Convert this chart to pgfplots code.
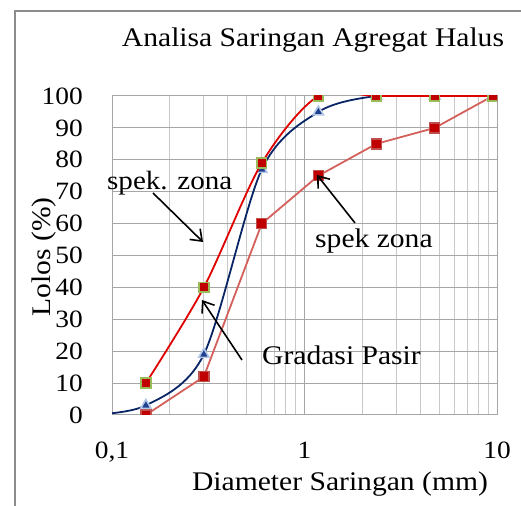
\documentclass[border=0pt]{standalone}
\usepackage{pgfplots}
\pgfplotsset{compat=1.18}
\usepackage{pgfplotstable}
\usepackage{fontspec}
\setmainfont[FakeStretch=1.1]{Liberation Serif}
\usetikzlibrary{arrows.meta}

\definecolor{bordergray}{HTML}{8C8C8C}
\definecolor{majgrid}{HTML}{A6A6A6}
\definecolor{mingrid}{HTML}{C8C8C8}
\definecolor{upline}{HTML}{E00000}
\definecolor{redfill}{HTML}{C00000}
\definecolor{greenedge}{HTML}{9BBB59}
\definecolor{lowline}{HTML}{D4605C}
\definecolor{lowedge}{HTML}{C0504D}
\definecolor{navy}{HTML}{0A2566}
\definecolor{trifill}{HTML}{1F3F8F}
\definecolor{triedge}{HTML}{B4C7E7}

% batas atas (spek. zona)
\pgfplotstableread{
d    p
0.15 10
0.3  40
0.6  79
1.18 100
2.36 100
4.75 100
9.5  100
}\tabAtas

% batas bawah (spek zona)
\pgfplotstableread{
d    p
0.15 0
0.3  12
0.6  60
1.18 75
2.36 85
4.75 90
9.5  100
}\tabBawah

% gradasi pasir
\pgfplotstableread{
d     p
0.075 0
0.15  3
0.3   19
0.6   77
1.18  95
2.36  100
4.75  100
9.5   100
}\tabPasir

\begin{document}
\begin{tikzpicture}[x=1bp,y=1bp]
\useasboundingbox (0,0) rectangle (521,506);
\draw[bordergray, line width=2bp] (15,0) -- (15,495) -- (522,495);

\begin{axis}[
    at={(112bp,91bp)}, anchor=south west,
    scale only axis,
    width=385bp, height=319bp,
    xmode=log,
    xmin=0.1, xmax=10,
    ymin=0, ymax=100,
    xtick={0.1,1,10},
    xticklabels={{0,1},1,10},
    minor xtick={0.2,0.3,0.4,0.5,0.6,0.7,0.8,0.9,2,3,4,5,6,7,8,9},
    ytick={0,10,...,100},
    major tick length=0pt, minor tick length=0pt,
    xmajorgrids, xminorgrids, ymajorgrids,
    major grid style={majgrid, line width=1bp},
    minor grid style={mingrid, line width=1bp},
    axis line style={majgrid, line width=1bp},
    /pgf/number format/assume math mode=true,
    ticklabel style={font=\fontsize{25}{28}\selectfont, inner sep=0pt},
    yticklabel style={anchor=east, xshift=-29bp},
    xticklabel style={anchor=north, yshift=-27bp},
    clip marker paths=true,
]
\addplot[lowline, line width=1.8bp, mark=square*, mark size=5bp,
    mark options={fill=redfill, draw=lowedge, line width=1.4bp}]
    table[x=d, y=p] {\tabBawah};
\addplot[navy, line width=1.8bp, smooth, mark=triangle*, mark size=6bp,
    mark options={fill=trifill, draw=triedge, line width=1.6bp}]
    table[x=d, y=p] {\tabPasir};
\addplot[upline, line width=1.8bp, smooth, mark=square*, mark size=4.8bp,
    mark options={fill=redfill, draw=greenedge, line width=1.8bp}]
    table[x=d, y=p] {\tabAtas};
\end{axis}

\node[anchor=base, font=\fontsize{27}{30}\selectfont, inner sep=0pt] at (313,459) {Analisa Saringan Agregat Halus};
\node[anchor=base, font=\fontsize{27}{30}\selectfont, inner sep=0pt] at (340,15) {Diameter Saringan (mm)};
\node[anchor=base, rotate=90, font=\fontsize{27}{30}\selectfont, inner sep=0pt] at (50,249) {Lolos (\%)};

\node[anchor=base west, font=\fontsize{26.5}{30}\selectfont, inner sep=0pt] at (107,316) {spek. zona};
\node[anchor=base west, font=\fontsize{27}{30}\selectfont, inner sep=0pt] at (262,141) {Gradasi Pasir};
\node[anchor=base west, font=\fontsize{27}{30}\selectfont, inner sep=0pt] at (315,258) {spek zona};

\draw[line width=1.6bp, -{Straight Barb[length=10bp,width=15bp]}] (153,313) -- (203,264);
\draw[line width=1.6bp, -{Straight Barb[length=10bp,width=15bp]}] (242,146) -- (202,206);
\draw[line width=1.6bp, -{Straight Barb[length=10bp,width=15bp]}] (355,283) -- (317,331);
\end{tikzpicture}
\end{document}
